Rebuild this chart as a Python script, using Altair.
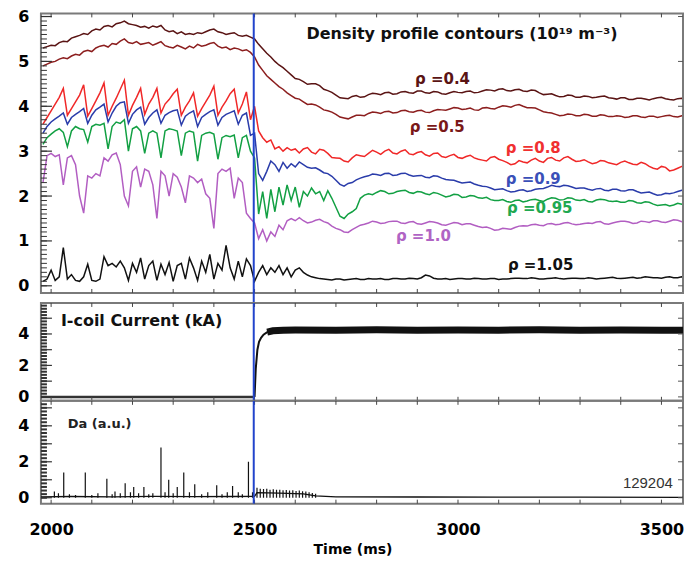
import altair as alt
import pandas as pd

FONT = "DejaVu Sans"
U = alt.Undefined

# ---------------- data ----------------
t_fine = list(range(1980, 2601, 10))     # 63 samples
t_coarse = list(range(2620, 3561, 20))   # 48 samples
t_mid = list(range(2610, 3551, 20))      # 48 samples in between
time_ms = t_fine + t_coarse

rho_04 = [
    5.30, 5.33, 5.36, 5.35, 5.42, 5.45, 5.44, 5.52, 5.55, 5.58,
    5.62, 5.60, 5.68, 5.72, 5.70, 5.78, 5.80, 5.77, 5.84, 5.86,
    5.90, 5.84, 5.82, 5.80, 5.76, 5.78, 5.74, 5.79, 5.76, 5.80,
    5.70, 5.66, 5.68, 5.62, 5.66, 5.60, 5.62, 5.60, 5.64, 5.62,
    5.66, 5.70, 5.72, 5.66, 5.64, 5.60, 5.62, 5.64, 5.58, 5.56,
    5.58, 5.54, 5.50, 5.38, 5.28, 5.18, 5.10, 5.00, 4.92, 4.86,
    4.78, 4.70, 4.62,
] + [
    4.55, 4.50, 4.46, 4.35, 4.25, 4.18, 4.22, 4.20, 4.26, 4.28, 4.30, 4.27,
    4.32, 4.30, 4.34, 4.30, 4.33, 4.28, 4.30, 4.31, 4.33, 4.30, 4.34, 4.36,
    4.38, 4.35, 4.37, 4.34, 4.36, 4.30, 4.27, 4.24, 4.22, 4.24, 4.20, 4.22,
    4.20, 4.23, 4.18, 4.19, 4.15, 4.18, 4.16, 4.17, 4.20, 4.15, 4.17, 4.16,
]
rho_04_mid = [
    4.60, 4.49, 4.50, 4.38, 4.31, 4.19, 4.17, 4.24, 4.21, 4.29, 4.26, 4.31,
    4.28, 4.33, 4.29, 4.34, 4.29, 4.32, 4.27, 4.33, 4.30, 4.34, 4.31, 4.37,
    4.34, 4.39, 4.34, 4.38, 4.33, 4.35, 4.26, 4.28, 4.21, 4.25, 4.20, 4.23,
    4.19, 4.22, 4.19, 4.16, 4.19, 4.15, 4.18, 4.14, 4.19, 4.17, 4.14, 4.18,
]

rho_05 = [
    4.90, 4.94, 4.98, 5.00, 5.05, 5.08, 5.06, 5.12, 5.16, 5.14,
    5.22, 5.25, 5.22, 5.30, 5.34, 5.36, 5.32, 5.40, 5.38, 5.45,
    5.50, 5.42, 5.40, 5.44, 5.38, 5.40, 5.42, 5.36, 5.40, 5.44,
    5.35, 5.32, 5.30, 5.36, 5.32, 5.28, 5.34, 5.30, 5.38, 5.34,
    5.36, 5.40, 5.42, 5.34, 5.30, 5.32, 5.26, 5.30, 5.28, 5.24,
    5.26, 5.20, 5.10, 4.92, 4.80, 4.68, 4.60, 4.52, 4.44, 4.38,
    4.30, 4.24, 4.18,
] + [
    4.10, 4.05, 3.98, 3.90, 3.82, 3.74, 3.76, 3.80, 3.84, 3.86, 3.88, 3.85,
    3.90, 3.88, 3.90, 3.87, 3.90, 3.92, 3.94, 3.96, 3.94, 3.92, 3.96, 3.95,
    3.98, 4.00, 4.02, 4.00, 3.97, 3.92, 3.86, 3.82, 3.80, 3.82, 3.79, 3.81,
    3.78, 3.80, 3.77, 3.78, 3.76, 3.79, 3.75, 3.78, 3.77, 3.80, 3.76, 3.78,
]
rho_05_mid = [
    4.16, 4.04, 4.03, 3.92, 3.87, 3.76, 3.72, 3.80, 3.79, 3.87, 3.84, 3.89,
    3.86, 3.91, 3.87, 3.91, 3.86, 3.93, 3.91, 3.97, 3.93, 3.96, 3.91, 3.97,
    3.94, 4.01, 3.98, 4.04, 3.97, 3.96, 3.88, 3.85, 3.79, 3.83, 3.79, 3.82,
    3.78, 3.81, 3.77, 3.79, 3.75, 3.79, 3.76, 3.78, 3.75, 3.79, 3.77, 3.79,
]

rho_08 = [
    3.60, 3.75, 3.90, 4.05, 4.20, 4.40, 3.80, 3.95, 4.10, 4.25,
    4.48, 3.78, 3.95, 4.12, 4.30, 4.52, 3.80, 4.00, 4.18, 4.38,
    4.58, 3.80, 4.02, 4.20, 4.40, 3.82, 4.05, 4.20, 4.40, 3.85,
    4.05, 4.15, 4.28, 4.38, 3.80, 3.98, 4.12, 4.30, 3.78, 3.95,
    4.10, 4.25, 4.45, 3.80, 3.98, 4.12, 4.28, 4.38, 3.85, 4.05,
    4.32, 3.70, 4.00, 3.45, 3.30, 3.20, 3.25, 3.05, 3.10, 3.00,
    3.08, 3.02, 3.05,
] + [
    3.05, 2.98, 3.04, 2.95, 2.85, 2.78, 2.85, 2.90, 2.95, 2.98, 3.00, 2.96,
    3.00, 2.94, 2.97, 2.92, 2.95, 2.88, 2.90, 2.86, 2.88, 2.85, 2.80, 2.86,
    2.82, 2.75, 2.72, 2.76, 2.80, 2.78, 2.84, 2.80, 2.85, 2.82, 2.78, 2.76,
    2.74, 2.78, 2.72, 2.75, 2.74, 2.70, 2.72, 2.62, 2.66, 2.56, 2.62, 2.68,
]
rho_08_mid = [
    2.96, 3.08, 2.94, 3.02, 2.86, 2.84, 2.76, 2.92, 2.88, 3.02, 2.93, 3.04,
    2.94, 3.03, 2.92, 2.99, 2.89, 2.96, 2.86, 2.93, 2.84, 2.91, 2.82, 2.78,
    2.88, 2.79, 2.70, 2.79, 2.74, 2.84, 2.75, 2.86, 2.78, 2.88, 2.77, 2.81,
    2.72, 2.79, 2.74, 2.70, 2.78, 2.71, 2.75, 2.66, 2.60, 2.64, 2.58, 2.66,
]

rho_09 = [
    3.40, 3.55, 3.65, 3.72, 3.78, 3.85, 3.60, 3.75, 3.82, 3.88,
    3.95, 3.62, 3.80, 3.92, 3.98, 4.05, 3.65, 3.85, 4.00, 4.08,
    4.10, 3.62, 3.82, 3.92, 3.98, 3.60, 3.75, 3.85, 3.92, 3.62,
    3.80, 3.86, 3.90, 3.92, 3.58, 3.78, 3.85, 3.90, 3.55, 3.75,
    3.82, 3.88, 3.92, 3.58, 3.75, 3.82, 3.86, 3.90, 3.60, 3.80,
    3.85, 3.35, 3.40, 2.50, 2.35, 2.55, 2.78, 2.70, 2.55, 2.75,
    2.62, 2.72, 2.65,
] + [
    2.70, 2.62, 2.58, 2.50, 2.35, 2.22, 2.30, 2.40, 2.45, 2.48, 2.50, 2.46,
    2.50, 2.47, 2.45, 2.42, 2.45, 2.40, 2.36, 2.32, 2.30, 2.27, 2.22, 2.18,
    2.15, 2.12, 2.10, 2.14, 2.12, 2.16, 2.20, 2.22, 2.24, 2.20, 2.18, 2.15,
    2.16, 2.13, 2.15, 2.12, 2.14, 2.10, 2.08, 2.05, 2.03, 2.05, 2.10, 2.12,
]
rho_09_mid = [
    2.76, 2.64, 2.63, 2.52, 2.44, 2.26, 2.28, 2.36, 2.43, 2.49, 2.46, 2.51,
    2.47, 2.51, 2.44, 2.46, 2.41, 2.44, 2.37, 2.35, 2.29, 2.31, 2.24, 2.21,
    2.14, 2.16, 2.09, 2.13, 2.10, 2.15, 2.17, 2.24, 2.21, 2.23, 2.17, 2.18,
    2.13, 2.17, 2.12, 2.15, 2.11, 2.14, 2.07, 2.09, 2.02, 2.06, 2.07, 2.13,
]

rho_095 = [
    3.15, 3.30, 3.38, 3.45, 3.50, 3.42, 3.10, 3.45, 3.55, 3.50,
    3.48, 3.20, 3.55, 3.60, 3.58, 3.62, 3.05, 3.55, 3.65, 3.62,
    3.70, 3.00, 3.50, 3.55, 3.45, 2.95, 3.40, 3.45, 3.40, 2.85,
    3.45, 3.50, 3.48, 3.45, 2.90, 3.40, 3.45, 3.42, 2.78, 3.35,
    3.40, 3.42, 3.38, 2.82, 3.30, 3.35, 3.32, 3.36, 2.85, 3.30,
    3.35, 3.00, 2.85, 1.60, 2.10, 1.50, 2.15, 1.65, 2.20, 1.80,
    2.25, 1.90, 2.20,
] + [
    2.10, 2.18, 2.10, 2.12, 1.75, 1.50, 1.65, 1.95, 2.05, 2.08, 2.10, 2.06,
    2.12, 2.08, 2.10, 2.05, 2.08, 2.02, 2.00, 2.03, 1.98, 2.00, 1.95, 1.92,
    1.90, 1.88, 1.90, 1.87, 1.92, 1.90, 1.93, 1.95, 1.92, 1.95, 1.90, 1.88,
    1.91, 1.92, 1.88, 1.86, 1.90, 1.85, 1.87, 1.82, 1.80, 1.78, 1.84, 1.86,
]
rho_095_mid = [
    1.75, 2.00, 2.05, 1.90, 1.95, 1.55, 1.60, 1.72, 2.02, 2.03, 2.12, 2.05,
    2.10, 2.13, 2.06, 2.09, 2.03, 2.06, 1.98, 2.04, 1.97, 2.01, 1.96, 1.97,
    1.90, 1.92, 1.86, 1.91, 1.89, 1.93, 1.88, 1.96, 1.91, 1.96, 1.91, 1.92,
    1.87, 1.93, 1.89, 1.89, 1.86, 1.89, 1.84, 1.86, 1.79, 1.81, 1.80, 1.82,
]

rho_10 = [
    2.30, 2.90, 2.95, 2.88, 2.92, 2.25, 2.85, 2.90, 2.70, 2.00,
    1.62, 2.45, 2.40, 2.50, 2.45, 2.85, 2.78, 2.92, 2.96, 2.70,
    2.00, 1.78, 2.55, 2.65, 2.20, 2.60, 2.55, 2.25, 1.50, 2.55,
    2.45, 2.00, 2.50, 2.42, 2.20, 1.85, 2.45, 2.40, 2.30, 2.38,
    2.05, 1.95, 1.28, 2.50, 2.60, 2.55, 2.62, 1.95, 2.40, 2.30,
    1.62, 1.50, 1.40, 1.05, 1.25, 1.00, 1.20, 1.10, 1.35, 1.25,
    1.45, 1.50, 1.45,
] + [
    1.45, 1.42, 1.48, 1.40, 1.28, 1.20, 1.25, 1.35, 1.40, 1.42, 1.40, 1.44,
    1.40, 1.42, 1.38, 1.40, 1.42, 1.36, 1.38, 1.40, 1.38, 1.35, 1.30, 1.28,
    1.25, 1.27, 1.30, 1.34, 1.36, 1.35, 1.38, 1.36, 1.40, 1.38, 1.37, 1.40,
    1.42, 1.38, 1.40, 1.44, 1.42, 1.40, 1.43, 1.45, 1.42, 1.44, 1.46, 1.45,
]
rho_10_mid = [
    1.52, 1.40, 1.46, 1.43, 1.33, 1.25, 1.19, 1.30, 1.37, 1.44, 1.39, 1.43,
    1.44, 1.39, 1.43, 1.37, 1.43, 1.40, 1.35, 1.41, 1.36, 1.38, 1.32, 1.31,
    1.24, 1.28, 1.26, 1.33, 1.33, 1.37, 1.34, 1.39, 1.37, 1.41, 1.36, 1.39,
    1.39, 1.43, 1.37, 1.42, 1.44, 1.39, 1.44, 1.41, 1.45, 1.41, 1.47, 1.43,
]

rho_105 = [
    0.10, 0.15, 0.35, 0.12, 0.20, 0.85, 0.15, 0.25, 0.12, 0.10,
    0.20, 0.48, 0.12, 0.10, 0.15, 0.65, 0.45, 0.50, 0.42, 0.55,
    0.40, 0.12, 0.50, 0.30, 0.62, 0.15, 0.45, 0.55, 0.12, 0.48,
    0.25, 0.52, 0.10, 0.45, 0.50, 0.15, 0.62, 0.40, 0.12, 0.55,
    0.30, 0.70, 0.15, 0.50, 0.35, 0.90, 0.40, 0.15, 0.55, 0.20,
    0.60, 0.45, 0.10, 0.30, 0.45, 0.25, 0.40, 0.30, 0.45, 0.25,
    0.40, 0.20, 0.35,
] + [
    0.30, 0.20, 0.16, 0.14, 0.15, 0.13, 0.15, 0.14, 0.16, 0.15, 0.14, 0.16,
    0.15, 0.17, 0.15, 0.24, 0.17, 0.15, 0.14, 0.16, 0.15, 0.17, 0.15, 0.16,
    0.14, 0.15, 0.17, 0.16, 0.18, 0.15, 0.16, 0.18, 0.15, 0.17, 0.16, 0.18,
    0.15, 0.17, 0.19, 0.16, 0.18, 0.17, 0.20, 0.18, 0.17, 0.20, 0.18, 0.19,
]
rho_105_mid = [
    0.40, 0.24, 0.18, 0.15, 0.13, 0.15, 0.14, 0.16, 0.14, 0.15, 0.16, 0.14,
    0.16, 0.15, 0.16, 0.18, 0.22, 0.15, 0.16, 0.15, 0.16, 0.15, 0.16, 0.15,
    0.16, 0.15, 0.16, 0.17, 0.16, 0.17, 0.15, 0.17, 0.16, 0.16, 0.17, 0.16,
    0.17, 0.16, 0.18, 0.17, 0.17, 0.19, 0.18, 0.19, 0.18, 0.19, 0.18, 0.20,
]

series_names = ["rho=0.4", "rho=0.5", "rho=0.8", "rho=0.9", "rho=0.95", "rho=1.0", "rho=1.05"]
series_values = [rho_04, rho_05, rho_08, rho_09, rho_095, rho_10, rho_105]
series_mid = [rho_04_mid, rho_05_mid, rho_08_mid, rho_09_mid, rho_095_mid, rho_10_mid, rho_105_mid]
series_colors = ["#5a1414", "#8c1e1e", "#f02828", "#2a3caa", "#12a043", "#b25ec2", "#111111"]

label_text = ["ρ =0.4", "ρ =0.5", "ρ =0.8", "ρ =0.9", "ρ =0.95", "ρ =1.0", "ρ =1.05"]
label_t = [2962, 2949, 3185, 3185, 3201, 2915, 3203]
label_v = [4.60, 3.54, 3.06, 2.39, 1.73, 1.11, 0.47]
label_colors = ["#5a1414", "#7a1818", "#f03030", "#3a50b8", "#20a850", "#b064c4", "#111111"]

icoil_t = [1975, 2500, 2503, 2507, 2511, 2516, 2522, 2531, 2545, 2570,
           2600, 2700, 2800, 2900, 3000, 3100, 3200, 3300, 3400, 3500, 3560]
icoil_v = [0, 0, 1.8, 3.0, 3.5, 3.75, 3.95, 4.12, 4.2, 4.24,
           4.25, 4.24, 4.26, 4.23, 4.25, 4.24, 4.26, 4.24, 4.25, 4.23, 4.24]

da_t = [2008, 2018, 2031, 2045, 2060, 2084, 2100, 2115, 2137, 2150,
        2157, 2170, 2182, 2195, 2203, 2215, 2228, 2240, 2250, 2270,
        2280, 2289, 2300, 2310, 2326, 2340, 2353, 2370, 2385, 2407,
        2420, 2433, 2446, 2460, 2470, 2485, 2495,
        2506, 2514, 2522, 2530, 2538, 2546, 2554, 2562, 2570, 2578,
        2586, 2594, 2602, 2610, 2618, 2626, 2634, 2642, 2650]
da_h = [0.35, 0.25, 1.4, 0.2, 0.15, 1.4, 0.15, 0.25, 1.05, 0.2,
        0.35, 0.25, 0.8, 0.3, 0.6, 0.25, 0.6, 0.2, 0.25, 2.8,
        0.3, 1.0, 0.25, 0.6, 1.4, 0.3, 0.75, 0.2, 0.3, 0.7,
        0.2, 0.3, 0.65, 0.3, 0.2, 2.0, 0.3,
        0.55, 0.5, 0.48, 0.5, 0.45, 0.47, 0.44, 0.45, 0.42, 0.43,
        0.4, 0.42, 0.38, 0.4, 0.36, 0.34, 0.3, 0.26, 0.22]
da_base_t = [1975, 2050, 2150, 2250, 2350, 2450, 2500, 2506, 2560, 2620, 2650, 2700, 2900, 3100, 3300, 3553]
da_base_v = [0.05, 0.07, 0.05, 0.08, 0.06, 0.07, 0.08, 0.28, 0.26, 0.22, 0.10, 0.05, 0.04, 0.03, 0.03, 0.02]

blue_line_t = [2498]
x_tick_vals = [2000, 2500, 3000, 3500]
x_minor_ticks = list(range(2000, 3501, 100))

# ---------------- layout constants ----------------
X_DOM = [1975, 3553]
W = 643
FRAME_TOP = 280            # framed height of the top panel
GAP = 10                   # white gap under it (blue line crosses it)
H_TOP = FRAME_TOP + GAP
TOP_DOM = [-0.16 - GAP * 6.23 / FRAME_TOP, 6.07]
MID_DOM, H_MID = [-0.25, 5.97], 98
BOT_DOM, H_BOT = [-0.33, 5.39], 103
BLUE = "#2244cc"
FRAME = "#7a7a7a"

rows = []
for name, vals, mids in zip(series_names, series_values, series_mid):
    for t, v in zip(time_ms, vals):
        rows.append({"t": t, "v": v, "s": name})
    for t, v in zip(t_mid, mids):
        rows.append({"t": t, "v": v, "s": name})
dens = pd.DataFrame(rows).sort_values(["s", "t"]).reset_index(drop=True)


def xenc(axis=U):
    return alt.X("t:Q", scale=alt.Scale(domain=X_DOM, nice=False, zero=False), axis=axis)


def yenc(dom, axis=U, field="v"):
    return alt.Y(f"{field}:Q", scale=alt.Scale(domain=dom, nice=False, zero=False), axis=axis)


def yaxis(vals):
    return alt.Axis(values=vals, title=None, labelFont=FONT, labelFontWeight="bold",
                    labelFontSize=16, labelColor="black", ticks=False, tickSize=0,
                    domain=False, grid=False, labelPadding=12, minExtent=40, maxExtent=40)


def frame_ticks(dom, h, minor_vals, major_vals, minor_len, minor_width, xax):
    layers = []
    layers.append(alt.Chart(pd.DataFrame({"v": minor_vals})).mark_rule(
        color="#333333", strokeWidth=minor_width).encode(
        y=yenc(dom), x=alt.value(0), x2=alt.value(minor_len)))
    layers.append(alt.Chart(pd.DataFrame({"v": major_vals})).mark_rule(
        color="#333333", strokeWidth=1.2).encode(
        y=yenc(dom), x=alt.value(0), x2=alt.value(11)))
    layers.append(alt.Chart(pd.DataFrame({"v": major_vals})).mark_rule(
        color="#555555", strokeWidth=1).encode(
        y=yenc(dom), x=alt.value(W - 5), x2=alt.value(W)))
    xt = pd.DataFrame({"t": x_minor_ticks})
    layers.append(alt.Chart(xt).mark_rule(color="#444444", strokeWidth=1).encode(
        x=xenc(xax), y=alt.value(0), y2=alt.value(4)))
    layers.append(alt.Chart(xt).mark_rule(color="#444444", strokeWidth=1).encode(
        x=xenc(xax), y=alt.value(h - 4), y2=alt.value(h)))
    return layers


def text_layer(df, dom, size, xax, weight="bold", align="center", font=FONT):
    return alt.Chart(df).mark_text(font=font, fontSize=size, fontWeight=weight,
                                   align=align, baseline="middle").encode(
        x=xenc(xax), y=yenc(dom), text="txt:N",
        color=alt.Color("c:N", scale=None))


def blue_rule(h, xax):
    return alt.Chart(pd.DataFrame({"t": blue_line_t})).mark_rule(color=BLUE, strokeWidth=2).encode(
        x=xenc(xax), y=alt.value(0), y2=alt.value(h))


# ---------------- top panel ----------------
top_lines = alt.Chart(dens).mark_line(strokeWidth=1.5, clip=True).encode(
    x=xenc(None),
    y=yenc(TOP_DOM, yaxis([0, 1, 2, 3, 4, 5, 6])),
    color=alt.Color("s:N", scale=alt.Scale(domain=series_names, range=series_colors), legend=None),
)
top_frame = alt.Chart(pd.DataFrame({"f": [0]})).mark_rect(
    fillOpacity=0, stroke=FRAME, strokeWidth=2).encode(
    x=alt.value(0), x2=alt.value(W), y=alt.value(0), y2=alt.value(FRAME_TOP))

lab_df = pd.DataFrame({"t": label_t, "v": label_v, "txt": label_text, "c": label_colors})
title_df = pd.DataFrame({"t": [3010], "v": [5.61],
                         "txt": ["Density profile contours (10¹⁹ m⁻³)"], "c": ["#111111"]})

top = alt.layer(
    top_lines,
    top_frame,
    *frame_ticks(TOP_DOM, FRAME_TOP, [i / 10 for i in range(0, 61)], [0, 1, 2, 3, 4, 5, 6], 6, 1, None),
    blue_rule(H_TOP, None),
    text_layer(lab_df, TOP_DOM, 15, None),
    text_layer(title_df, TOP_DOM, 16, None),
).properties(width=W, height=H_TOP, view=alt.ViewBackground(strokeOpacity=0))

# ---------------- middle panel ----------------
icoil = pd.DataFrame({"t": icoil_t, "v": icoil_v})
mid_zero = alt.Chart(icoil).transform_filter("datum.t <= 2500").mark_line(
    color="#333333", strokeWidth=2.5, clip=True).encode(
    x=xenc(None), y=yenc(MID_DOM, yaxis([0, 2, 4])))
mid_rise = alt.Chart(icoil).transform_filter("datum.t >= 2500").mark_line(
    color="#111111", strokeWidth=2, clip=True).encode(x=xenc(None), y=yenc(MID_DOM))
mid_band = alt.Chart(icoil).transform_filter("datum.t >= 2531").mark_line(
    color="#111111", strokeWidth=7, clip=True).encode(x=xenc(None), y=yenc(MID_DOM))
ic_lab = pd.DataFrame({"t": [2024], "v": [4.83], "txt": ["I-coil Current (kA)"], "c": ["#111111"]})

mid = alt.layer(
    mid_zero, mid_rise, mid_band,
    *frame_ticks(MID_DOM, H_MID, [i / 5 for i in range(0, 30)], [0, 1, 2, 3, 4, 5], 6, 2, None),
    blue_rule(H_MID, None),
    text_layer(ic_lab, MID_DOM, 16, None, align="left"),
).properties(width=W, height=H_MID)

# ---------------- bottom panel ----------------
x_axis = alt.Axis(values=x_tick_vals, format="d", labelFont=FONT, labelFontWeight="bold",
                  labelFontSize=16, labelColor="black", ticks=False, tickSize=0,
                  domain=False, grid=False, labelPadding=18, labelOverlap=False,
                  title="Time (ms)", titleFont=FONT, titleFontWeight="bold",
                  titleFontSize=14, titleColor="black", titlePadding=5,
                  titleX=312, titleAlign="center")
da_base = pd.DataFrame({"t": da_base_t, "v": da_base_v})
bot_base = alt.Chart(da_base).mark_line(color="#111111", strokeWidth=1.3, clip=True).encode(
    x=xenc(x_axis), y=yenc(BOT_DOM, yaxis([0, 2, 4])))
da_df = pd.DataFrame({"t": da_t, "h": da_h, "b": [0.0] * len(da_t)})
bot_spikes = alt.Chart(da_df).mark_rule(color="#111111", strokeWidth=1.2, clip=True).encode(
    x=xenc(), y=yenc(BOT_DOM, field="h"), y2=alt.Y2("b:Q"))
da_lab = pd.DataFrame({"t": [2041], "v": [4.08], "txt": ["Da (a.u.)"], "c": ["#222222"]})
shot_lab = pd.DataFrame({"t": [3528], "v": [0.81], "txt": ["129204"], "c": ["#333333"]})

bot = alt.layer(
    bot_base, bot_spikes,
    *frame_ticks(BOT_DOM, H_BOT, [i / 5 for i in range(0, 27)], [0, 1, 2, 3, 4, 5], 6, 2, U),
    blue_rule(H_BOT, U),
    text_layer(da_lab, BOT_DOM, 13, U, align="left"),
    text_layer(shot_lab, BOT_DOM, 15, U, weight="normal", align="right", font="Liberation Sans"),
).properties(width=W, height=H_BOT)

chart = alt.vconcat(top, mid, bot, spacing=0, bounds="flush").properties(
    padding={"left": 0, "right": 0, "top": 8, "bottom": 0},
    background="white",
).configure_view(stroke=FRAME, strokeWidth=2)

chart.save("out.html", embed_options={"renderer": "svg", "actions": False})
